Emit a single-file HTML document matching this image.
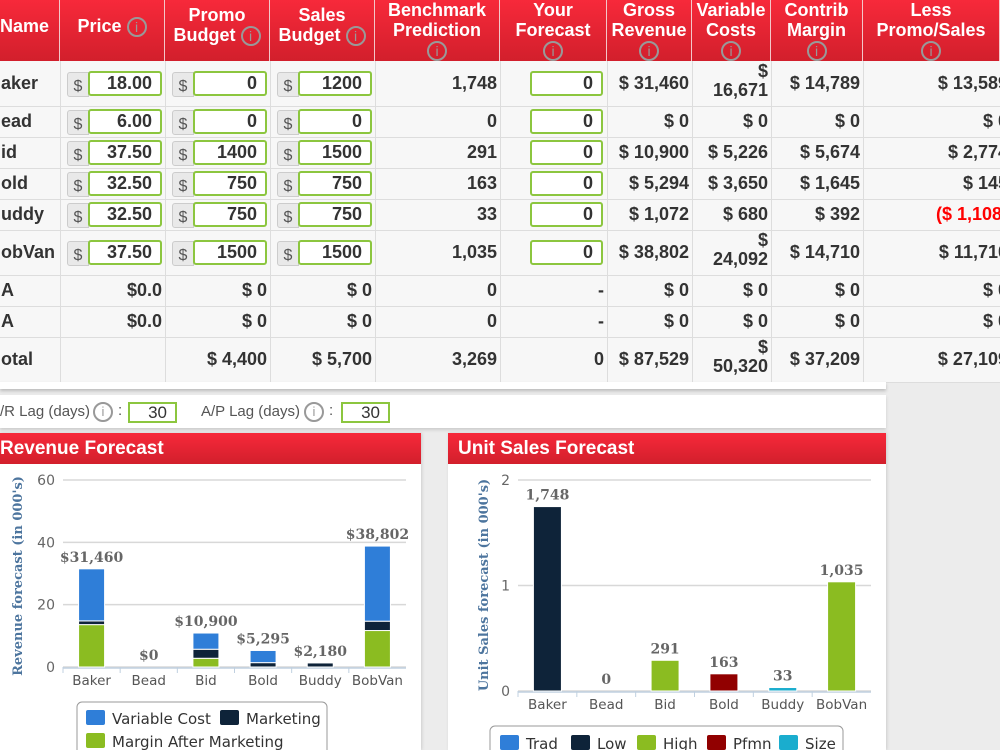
<!DOCTYPE html>
<html><head><meta charset="utf-8">
<style>
*{box-sizing:border-box;margin:0;padding:0}
body{width:1000px;height:750px;overflow:hidden;background:#ececec;font-family:"Liberation Sans",sans-serif;position:relative}
.abs{position:absolute}
.hdr{position:absolute;top:0;height:61px;overflow:hidden;background:linear-gradient(#f7293a,#d21f2c);border-right:1px solid #f3c7c9;color:#fff;font-weight:bold;font-size:18px;text-align:center;line-height:20px}
.info{display:inline-block;width:20px;height:20px;border:2px solid #999;border-radius:50%;color:#999;font-size:14px;line-height:16px;text-align:center;font-weight:normal;vertical-align:middle}
.cell{position:absolute;font-weight:bold;font-size:18px;color:#333;text-align:right;white-space:nowrap}
.vl{position:absolute;top:61px;height:321px;width:1px;background:#ddd}
.hl{position:absolute;left:0;width:1000px;height:1px;background:#ddd}
.addon{position:absolute;width:22px;height:25px;background:#e9e9e9;border:1px solid #ccc;border-radius:3px 0 0 3px;color:#555;font-size:16px;text-align:center;line-height:28px}
.inp{position:absolute;height:25px;background:#fff;border:2px solid #8cc63f;border-radius:3px;font-weight:bold;font-size:18px;color:#333;text-align:right;padding-right:8px;line-height:21px}
.panel-h{position:absolute;height:31px;background:linear-gradient(#f7293a,#d21f2c);color:#fff;font-weight:bold;font-size:19px;line-height:31px}
</style></head><body>
<div class="abs" style="left:0;top:61px;width:1000px;height:321px;background:#f7f7f7"></div>
<div id="table"></div>
<div class="abs" style="left:0;top:382px;width:886px;height:7px;background:#fff;box-shadow:0 2px 3px #bbb"></div>
<div class="abs" style="left:0;top:395px;width:886px;height:33px;background:#fff;box-shadow:0 2px 3px #ccc;font-size:15px;color:#555">
 <span class="abs" style="left:0;top:8px">/R Lag (days)</span>
 <span class="abs info" style="left:93px;top:7px;font-size:13px">i</span><span class="abs" style="left:118px;top:7px">:</span>
 <div class="abs" style="left:128px;top:7px;width:49px;height:21px;border:2px solid #8cc63f;text-align:right;padding-right:8px;font-size:17px;color:#333;line-height:17px">30</div>
 <span class="abs" style="left:201px;top:8px">A/P Lag (days)</span>
 <span class="abs info" style="left:304px;top:7px;font-size:13px">i</span><span class="abs" style="left:329px;top:7px">:</span>
 <div class="abs" style="left:341px;top:7px;width:49px;height:21px;border:2px solid #8cc63f;text-align:right;padding-right:8px;font-size:17px;color:#333;line-height:17px">30</div>
</div>
<div class="abs" style="left:0;top:433px;width:421px;height:317px;background:#fff;box-shadow:1px 0 3px #ccc"></div>
<div class="panel-h" style="left:0;top:433px;width:421px;padding-left:0">Revenue Forecast</div>
<div class="abs" style="left:448px;top:433px;width:438px;height:317px;background:#fff;box-shadow:1px 0 3px #ccc"></div>
<div class="panel-h" style="left:448px;top:433px;width:438px;padding-left:10px">Unit Sales Forecast</div>
<svg id="svg" class="abs" style="left:0;top:0" width="1000" height="750"></svg>
<script>
const cols=[0,60,165,270,375,500,607,692,771,863,1000];
const rowY=[61,106,137,168,199,230,275,306,337,382];
const headers=[["Name"],["Price ⓘ"],["Promo","Budget ⓘ"],["Sales","Budget ⓘ"],["Benchmark","Prediction","ⓘ"],["Your","Forecast","ⓘ"],["Gross","Revenue","ⓘ"],["Variable","Costs","ⓘ"],["Contrib","Margin","ⓘ"],["Less","Promo/Sales","ⓘ"]];
const names=["aker","ead","id","old","uddy","obVan","A","A","otal"];
const prices=["18.00","6.00","37.50","32.50","32.50","37.50",null,null,null];
const promos=["0","0","1400","750","750","1500",null,null,null];
const salesB=["1200","0","1500","750","750","1500",null,null,null];
const plainPrice=[null,null,null,null,null,null,"$0.0","$0.0",""];
const plainPromo=[null,null,null,null,null,null,"$ 0","$ 0","$ 4,400"];
const plainSales=[null,null,null,null,null,null,"$ 0","$ 0","$ 5,700"];
const bench=["1,748","0","291","163","33","1,035","0","0","3,269"];
const forecast=["0","0","0","0","0","0","-","-","0"];
const gross=["$ 31,460","$ 0","$ 10,900","$ 5,294","$ 1,072","$ 38,802","$ 0","$ 0","$ 87,529"];
const varc=["$|16,671","$ 0","$ 5,226","$ 3,650","$ 680","$|24,092","$ 0","$ 0","$|50,320"];
const contrib=["$ 14,789","$ 0","$ 5,674","$ 1,645","$ 392","$ 14,710","$ 0","$ 0","$ 37,209"];
const less=["$ 13,589","$ 0","$ 2,774","$ 145","($ 1,108)","$ 11,710","$ 0","$ 0","$ 27,109"];
const T=document.getElementById('table');
function add(html,name,inter){const d=document.createElement('div');d.innerHTML=html;const e=d.firstChild;


T.appendChild(e);return e;}
headers.forEach((h,i)=>{
  const w=cols[i+1]-cols[i];const n=h.length;const top=n==1?16:n==2?5:-6;
  const html=h.map(t=>t.replace('ⓘ','<span class="info">i</span>')).join('<br>');
  add(`<div class="hdr" style="left:${cols[i]}px;width:${w}px;padding-top:${top}px;line-height:20px;${i==0?'text-align:left':''}">${html}</div>`,'column-header',false);
});
for(let i=1;i<cols.length-1;i++) add(`<div class="vl" style="left:${cols[i]}px"></div>`,'column-divider',false);
for(let r=1;r<rowY.length;r++) add(`<div class="hl" style="top:${rowY[r]}px"></div>`,'row-divider',false);
function right(col,r,txt,nm,color){
  const y0=rowY[r],y1=rowY[r+1],mid=(y0+y1)/2;
  if(txt.includes('|')){const p=txt.split('|');
    add(`<div class="cell" style="right:${1000-cols[col+1]+3}px;top:${mid-22}px;line-height:19px">${p[0]}<br>${p[1]}</div>`,nm,false);return;}
  add(`<div class="cell" style="right:${1000-cols[col+1]+(col==9?-8:3)}px;top:${mid-11}px;color:${color||'#333'}">${txt}</div>`,nm,false);
}
function inputBox(col,r,val,nm,addon){
  const mid=(rowY[r]+rowY[r+1])/2;const x=cols[col]+5;
  if(addon){add(`<div class="addon" style="left:${x+2}px;top:${mid-12}px">$</div>`,'dollar-addon',false);
    add(`<div class="inp" style="left:${x+23}px;top:${mid-13}px;width:${cols[col+1]-x-26}px">${val}</div>`,nm,true);}
  else add(`<div class="inp" style="left:${x+25}px;top:${mid-13}px;width:${cols[col+1]-x-29}px">${val}</div>`,nm,true);
}
names.forEach((n,r)=>{
  const mid=(rowY[r]+rowY[r+1])/2;
  add(`<div class="cell" style="left:1px;top:${mid-11}px;text-align:left">${n}</div>`,'product-name',false);
  if(prices[r]!==null){inputBox(1,r,prices[r],'price-input',1);inputBox(2,r,promos[r],'promo-input',1);inputBox(3,r,salesB[r],'sales-input',1);}
  else{right(1,r,plainPrice[r],'price');right(2,r,plainPromo[r],'promo');right(3,r,plainSales[r],'sales');}
  right(4,r,bench[r],'benchmark');
  if(r<6) inputBox(5,r,forecast[r],'forecast-input',0); else right(5,r,forecast[r],'forecast');
  right(6,r,gross[r],'gross-revenue');right(7,r,varc[r],'variable-costs');right(8,r,contrib[r],'contrib-margin');
  right(9,r,less[r],'less-promo-sales',less[r].startsWith('(')?'#f00':null);
});
</script>
<script>
const cats=["Baker","Bead","Bid","Bold","Buddy","BobVan"];
const revMargin=[13.6,0,2.8,0,0,11.7];
const revMarketing=[1.2,0,2.9,1.4,1.3,3.0];
const revVariable=[16.7,0,5.2,3.9,0,24.1];
const revLabels=["$31,460","$0","$10,900","$5,295","$2,180","$38,802"];
const revTicks=[0,20,40,60];
const unitVals=[1.748,0,0.291,0.163,0.033,1.035];
const unitLabels=["1,748","0","291","163","33","1,035"];
const unitColors=["#0e2339","#2f7ed8","#8bbc21","#910000","#1aadce","#8bbc21"];
const unitTicks=[0,1,2];
const S=document.getElementById('svg');const NS="http://www.w3.org/2000/svg";
function el(tag,attrs,text){const e=document.createElementNS(NS,tag);for(const k in attrs)e.setAttribute(k,attrs[k]);if(text!==undefined)e.textContent=text;S.appendChild(e);return e;}
function chart(o){
  const y=v=>o.y0-(v-o.min)/(o.max-o.min)*(o.y0-o.y1);
  const bw=(o.x1-o.x0)/cats.length;const x=i=>o.x0+bw*(i+0.5);
  o.ticks.forEach(t=>{
    const g=el('line',{x1:o.x0,x2:o.x1,y1:y(t),y2:y(t),stroke:'#d8d8d8','stroke-width':1.5});
    
    const l=el('text',{x:o.x0-8,y:y(t)+5,'text-anchor':'end','font-size':14,fill:'#666','font-family':'DejaVu Sans'},t);
    
  });
  const ax=el('line',{x1:o.x0,x2:o.x1,y1:o.y0+1,y2:o.y0+1,stroke:'#c0d0e0','stroke-width':1.5});
  
  cats.forEach((c,i)=>{
    const tk=el('line',{x1:o.x0+bw*i,x2:o.x0+bw*i,y1:o.y0,y2:o.y0+6,stroke:'#c0d0e0'});
    
    const l=el('text',{x:x(i),y:o.y0+18,'text-anchor':'middle','font-size':13.5,fill:'#555','font-family':'DejaVu Sans'},c);
    
    let base=0;
    o.series.forEach(s=>{const v=s.vals[i];if(v>0){
      const r=el('rect',{x:x(i)-o.w/2,y:y(base+v),width:o.w,height:y(base)-y(base+v),fill:s.color||s.colors[i],stroke:'#fff','stroke-width':1});
      base+=v;}});
    const lb=el('text',{x:x(i),y:y(o.top[i])-7,'text-anchor':'middle','font-size':14,'font-weight':'bold',fill:'#666','font-family':'DejaVu Serif'},o.labels[i]);
    
  });
  const t=el('text',{transform:`translate(${o.tx},${o.ty}) rotate(-90)`,'text-anchor':'middle','font-size':13,'font-weight':'bold',fill:'#4d759e','font-family':'DejaVu Serif'},o.title);
  
  const lt=el('rect',{x:o.lx,y:o.ly,width:o.lw,height:749-o.ly+8,rx:5,fill:'#fff',stroke:'#999'});
  
  o.legend.forEach(e=>{
    const r=el('rect',{x:e[0],y:e[1]-12,width:19,height:15,rx:2,fill:e[3]});
    
    const tx=el('text',{x:e[0]+26,y:e[1]+2,'font-size':15,fill:'#333','font-family':'DejaVu Sans'},e[2]);
    
  });
}
chart({x0:63,x1:406,y0:667,y1:480,min:0,max:60,w:26,ticks:revTicks,labels:revLabels,
  top:cats.map((c,i)=>revMargin[i]+revMarketing[i]+revVariable[i]),
  series:[{vals:revMargin,color:'#8bbc21'},{vals:revMarketing,color:'#0e2339'},{vals:revVariable,color:'#2f7ed8'}],
  title:"Revenue forecast (in 000's)",tx:22,ty:576,lx:77,ly:702,lw:250,
  legend:[[86,722,'Variable Cost','#2f7ed8'],[220,722,'Marketing','#0e2339'],[86,745,'Margin After Marketing','#8bbc21']]});
chart({x0:518,x1:871,y0:691,y1:480,min:0,max:2,w:28,ticks:unitTicks,labels:unitLabels,top:unitVals,
  series:[{vals:unitVals,colors:unitColors}],
  title:"Unit Sales forecast (in 000's)",tx:488,ty:585,lx:490,ly:726,lw:353,
  legend:[[500,747,'Trad','#2f7ed8'],[571,747,'Low','#0e2339'],[637,747,'High','#8bbc21'],[707,747,'Pfmn','#910000'],[779,747,'Size','#1aadce']]});
</script>
</body></html>
